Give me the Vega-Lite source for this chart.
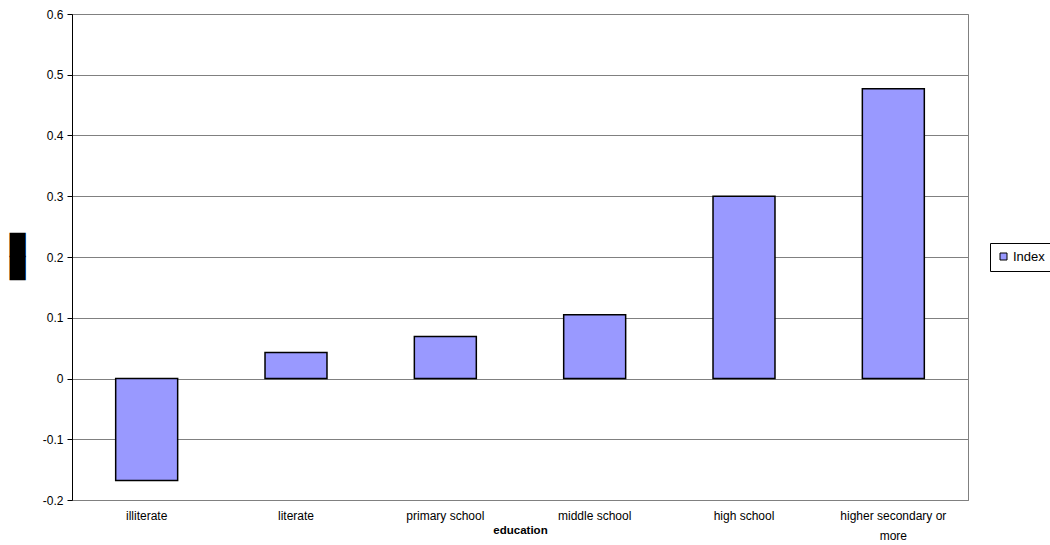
{
  "$schema": "https://vega.github.io/schema/vega-lite/v6.json",
  "width": 896,
  "height": 486,
  "autosize": {"type": "none"},
  "padding": {"left": 72, "top": 14, "right": 82, "bottom": 45},
  "background": "white",
  "config": {
    "font": "Liberation Sans",
    "view": {"stroke": "#808080", "strokeWidth": 1}
  },
  "data": {
    "values": [
      {"education": "illiterate", "Index": -0.168},
      {"education": "literate", "Index": 0.043},
      {"education": "primary school", "Index": 0.069},
      {"education": "middle school", "Index": 0.105},
      {"education": "high school", "Index": 0.300},
      {"education": "higher secondary or more", "Index": 0.477}
    ]
  },
  "mark": {"type": "bar", "stroke": "black", "strokeWidth": 1.5},
  "encoding": {
    "x": {
      "field": "education",
      "type": "nominal",
      "sort": null,
      "scale": {"paddingInner": 0.585, "paddingOuter": 0.2925},
      "axis": {
        "title": "education",
        "titleFont": "Liberation Sans",
        "titleFontWeight": "bold",
        "titleFontSize": 11.5,
        "titleY": 33,
        "titleBaseline": "alphabetic",
        "titleX": 448,
        "labelAngle": 0,
        "labelFontSize": 12,
        "labelColor": "black",
        "labelPadding": 10,
        "labelLineHeight": 20,
        "labelExpr": "datum.value == 'higher secondary or more' ? ['higher secondary or', 'more'] : datum.value",
        "ticks": false,
        "domainColor": "#808080",
        "domainWidth": 1
      }
    },
    "y": {
      "field": "Index",
      "type": "quantitative",
      "scale": {"domain": [-0.2, 0.6], "nice": false, "zero": false},
      "axis": {
        "values": [-0.2, -0.1, 0, 0.1, 0.2, 0.3, 0.4, 0.5, 0.6],
        "labelExpr": "datum.value < 0 ? '-' + format(-datum.value, '.1~f') : format(datum.value, '.1~f')",
        "labelFontSize": 12,
        "labelColor": "black",
        "labelPadding": 4,
        "tickColor": "black",
        "tickSize": 5,
        "domainColor": "black",
        "domainWidth": 1,
        "grid": true,
        "gridColor": "#808080",
        "gridWidth": 1,
        "title": ["█", "█"],
        "titleFont": "DejaVu Sans",
        "titleFontSize": 20.5,
        "titleLineHeight": 23.5,
        "titleColor": "black",
        "titleAngle": 0,
        "titleAlign": "center",
        "titleBaseline": "middle",
        "titleX": -55,
        "titleY": 231
      }
    },
    "color": {
      "datum": "Index",
      "type": "nominal",
      "scale": {"range": ["#9999FF"]},
      "legend": {
        "title": null,
        "orient": "none",
        "legendX": 918,
        "legendY": 229,
        "strokeColor": "black",
        "padding": 7,
        "symbolType": "square",
        "symbolSize": 49,
        "symbolStrokeColor": "black",
        "symbolStrokeWidth": 1,
        "symbolOpacity": 1,
        "labelFontSize": 13,
        "labelColor": "black",
        "labelOffset": 3
      }
    }
  }
}
